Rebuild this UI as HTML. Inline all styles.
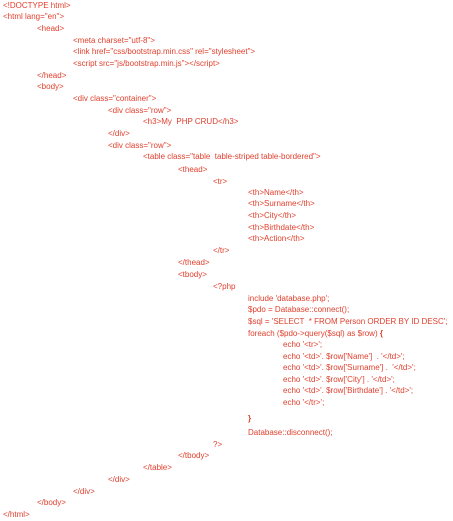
<!DOCTYPE html>
<html><head><meta charset="utf-8"><style>
html,body{margin:0;padding:0;background:#fff;width:453px;height:521px;overflow:hidden}
.l{position:absolute;white-space:pre;font-family:"Liberation Sans",sans-serif;font-size:8px;line-height:10px;color:#e0402e}
</style></head><body>
<div class="l" style="left:3px;top:1px">&lt;!DOCTYPE html&gt;</div>
<div class="l" style="left:3px;top:12px">&lt;html lang="en"&gt;</div>
<div class="l" style="left:37px;top:24px">&lt;head&gt;</div>
<div class="l" style="left:73px;top:36px">&lt;meta charset="utf-8"&gt;</div>
<div class="l" style="left:73px;top:47px">&lt;link href="css/bootstrap.min.css" rel="stylesheet"&gt;</div>
<div class="l" style="left:73px;top:59px">&lt;script src="js/bootstrap.min.js"&gt;&lt;/script&gt;</div>
<div class="l" style="left:37px;top:71px">&lt;/head&gt;</div>
<div class="l" style="left:37px;top:82px">&lt;body&gt;</div>
<div class="l" style="left:73px;top:94px">&lt;div class="container"&gt;</div>
<div class="l" style="left:108px;top:106px">&lt;div class="row"&gt;</div>
<div class="l" style="left:143px;top:117px">&lt;h3&gt;My  PHP CRUD&lt;/h3&gt;</div>
<div class="l" style="left:108px;top:129px">&lt;/div&gt;</div>
<div class="l" style="left:108px;top:141px">&lt;div class="row"&gt;</div>
<div class="l" style="left:143px;top:152px">&lt;table class="table  table-striped table-bordered"&gt;</div>
<div class="l" style="left:178px;top:165px">&lt;thead&gt;</div>
<div class="l" style="left:213px;top:177px">&lt;tr&gt;</div>
<div class="l" style="left:248px;top:188px">&lt;th&gt;Name&lt;/th&gt;</div>
<div class="l" style="left:248px;top:199px">&lt;th&gt;Surname&lt;/th&gt;</div>
<div class="l" style="left:248px;top:211px">&lt;th&gt;City&lt;/th&gt;</div>
<div class="l" style="left:248px;top:223px">&lt;th&gt;Birthdate&lt;/th&gt;</div>
<div class="l" style="left:248px;top:234px">&lt;th&gt;Action&lt;/th&gt;</div>
<div class="l" style="left:213px;top:246px">&lt;/tr&gt;</div>
<div class="l" style="left:178px;top:258px">&lt;/thead&gt;</div>
<div class="l" style="left:178px;top:270px">&lt;tbody&gt;</div>
<div class="l" style="left:213px;top:282px">&lt;?php</div>
<div class="l" style="left:248px;top:294px">include 'database.php';</div>
<div class="l" style="left:248px;top:305px">$pdo = Database::connect();</div>
<div class="l" style="left:248px;top:317px">$sql = 'SELECT  * FROM Person ORDER BY ID DESC';</div>
<div class="l" style="left:248px;top:329px">foreach ($pdo-&gt;query($sql) as $row) <b>{</b></div>
<div class="l" style="left:283px;top:340px">echo '&lt;tr&gt;';</div>
<div class="l" style="left:283px;top:352px">echo '&lt;td&gt;'. $row['Name']  . '&lt;/td&gt;';</div>
<div class="l" style="left:283px;top:363px">echo '&lt;td&gt;'. $row['Surname'] .  '&lt;/td&gt;';</div>
<div class="l" style="left:283px;top:375px">echo '&lt;td&gt;'. $row['City'] . '&lt;/td&gt;';</div>
<div class="l" style="left:283px;top:386px">echo '&lt;td&gt;'. $row['Birthdate'] . '&lt;/td&gt;';</div>
<div class="l" style="left:283px;top:398px">echo '&lt;/tr&gt;';</div>
<div class="l" style="left:248px;top:414px"><b>}</b></div>
<div class="l" style="left:248px;top:428px">Database::disconnect();</div>
<div class="l" style="left:213px;top:440px">?&gt;</div>
<div class="l" style="left:178px;top:451px">&lt;/tbody&gt;</div>
<div class="l" style="left:143px;top:463px">&lt;/table&gt;</div>
<div class="l" style="left:108px;top:475px">&lt;/div&gt;</div>
<div class="l" style="left:73px;top:487px">&lt;/div&gt;</div>
<div class="l" style="left:37px;top:498px">&lt;/body&gt;</div>
<div class="l" style="left:3px;top:510px">&lt;/html&gt;</div>
</body></html>
